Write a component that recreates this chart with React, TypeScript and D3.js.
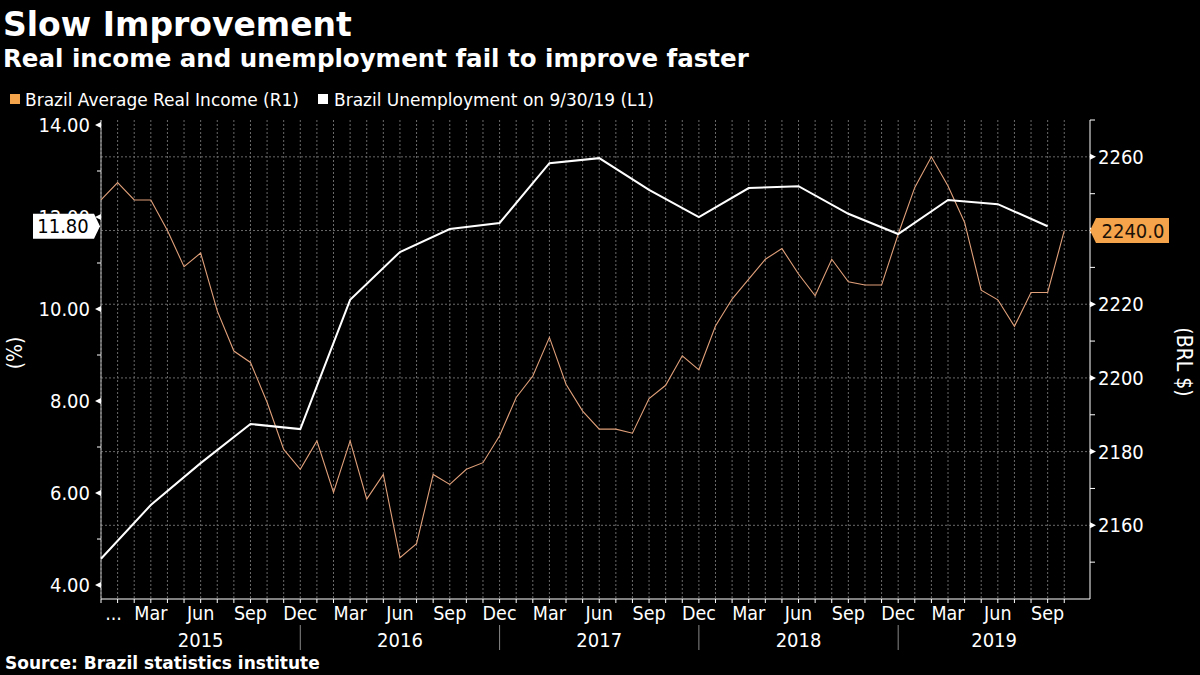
import React from "react";
import * as d3 from "d3";

// ---------- DATA ----------
const incomeStart = "2014-12";
const incomeValues = [
  2248.3,
  2253.0, 2248.3, 2248.3, 2240.0, 2230.2, 2233.9, 2218.2, 2207.3, 2204.2, 2193.4, 2180.6, 2175.2,
  2182.9, 2168.9, 2182.9, 2167.1, 2173.8, 2151.2, 2155.0, 2173.8, 2171.1, 2175.2, 2177.0, 2184.3,
  2194.7, 2200.5, 2211.0, 2198.3, 2191.0, 2186.1, 2186.1, 2185.0, 2194.4, 2198.0, 2206.0, 2202.2,
  2214.1, 2221.4, 2226.8, 2232.2, 2235.1, 2228.2, 2222.3, 2232.2, 2226.1, 2225.2, 2225.2, 2239.0,
  2251.7, 2260.0, 2252.1, 2242.2, 2223.8, 2221.2, 2214.0, 2223.2, 2223.2, 2240.0,
];

const unempDates = [
  "2014-12", "2015-03", "2015-06", "2015-09", "2015-12",
  "2016-03", "2016-06", "2016-09", "2016-12",
  "2017-03", "2017-06", "2017-09", "2017-12",
  "2018-03", "2018-06", "2018-09", "2018-12",
  "2019-03", "2019-06", "2019-09",
];
const unempValues = [
  4.57, 5.74, 6.65, 7.5, 7.39,
  10.2, 11.24, 11.74, 11.87,
  13.17, 13.28, 12.59, 12.0,
  12.63, 12.67, 12.07, 11.63,
  12.37, 12.28, 11.8,
];

const leftTicks = [4, 6, 8, 10, 12, 14];
const leftMinorTicks = [5, 7, 9, 11, 13];
const rightTicks = [2160, 2180, 2200, 2220, 2240, 2260];
const rightMinorTicks = [2150, 2170, 2190, 2210, 2230, 2250, 2270];
const quarterLabels = ["Mar", "Jun", "Sep", "Dec"];
const quarterMonths = [3, 6, 9, 12];
const years = [2015, 2016, 2017, 2018, 2019];

const title = "Slow Improvement";
const subtitle = "Real income and unemployment fail to improve faster";
const legendIncome = "Brazil Average Real Income (R1)";
const legendUnemp = "Brazil Unemployment on 9/30/19 (L1)";
const source = "Source: Brazil statistics institute";
const lastUnempLabel = "11.80";
const lastIncomeLabel = "2240.0";

// ---------- HELPERS ----------
const monthIndex = (s: string) => {
  const [y, m] = s.split("-").map(Number);
  return (y - 2014) * 12 + (m - 12);
};

const W = 1200;
const H = 675;
const L = 101;
const R = 1090;
const T = 120;
const B = 599;

const FONT = "'DejaVu Sans Condensed', 'Liberation Sans Narrow', 'DejaVu Sans', sans-serif";
const LEGEND_FONT = "'DejaVu Sans', 'Open Sans', sans-serif";
const BOLD = "'DejaVu Sans', 'Open Sans', sans-serif";
const ORANGE = "#f6a44b";
const LINE_ORANGE = "#e0a07a";
const GRID = "#6a6a6a";

export default function App() {
  const x = d3.scaleLinear().domain([0, 59.55]).range([L, R]);
  const yR = d3.scaleLinear().domain([2140, 2270]).range([B, T]);
  const yL = d3.scaleLinear().domain([3.696, 14.109]).range([B, T]);

  const start = monthIndex(incomeStart);
  const incomePts: [number, number][] = incomeValues.map((v, i) => [x(start + i), yR(v)]);
  const unempPts: [number, number][] = unempValues.map((v, i) => [x(monthIndex(unempDates[i])), yL(v)]);
  const line = d3.line();

  const monthGrid = d3.range(0, incomeValues.length);

  const tickLabels: { i: number; label: string }[] = [{ i: 1, label: "..." }];
  years.forEach((y) => {
    quarterMonths.forEach((m, k) => {
      const idx = (y - 2014) * 12 + (m - 12);
      if (idx <= 57) tickLabels.push({ i: idx, label: quarterLabels[k] });
    });
  });

  const yearBounds = years.map((y) => {
    const s = (y - 2015) * 12;
    const e = Math.min(s + 12, 59.55);
    return { y, s, e };
  });

  const lastU = unempPts[unempPts.length - 1][1];
  const lastI = incomePts[incomePts.length - 1][1];

  return (
    <svg width={W} height={H} style={{ position: "absolute", left: 0, top: 0, background: "#000" }}>
      <rect x={0} y={0} width={W} height={H} fill="#000" />

      {/* Title */}
      <text x={3} y={36} fill="#fff" fontFamily={BOLD} fontWeight="bold" fontSize={33}>{title}</text>
      <text x={3} y={67} fill="#fff" fontFamily={BOLD} fontWeight="bold" fontSize={24.5}>{subtitle}</text>

      {/* Legend */}
      <rect x={10} y={94} width={10} height={10} fill={ORANGE} />
      <text x={25} y={106} fill="#fff" fontFamily={LEGEND_FONT} fontSize={17}>{legendIncome}</text>
      <rect x={318} y={94} width={10} height={10} fill="#fff" />
      <text x={334} y={106} fill="#fff" fontFamily={LEGEND_FONT} fontSize={17}>{legendUnemp}</text>

      {/* Grid */}
      {monthGrid.map((i) => (
        <line key={"vg" + i} x1={x(i)} x2={x(i)} y1={T} y2={B} stroke={GRID} strokeWidth={1} strokeDasharray="2,2" />
      ))}
      {rightTicks.map((t) => (
        <line key={"hg" + t} x1={L} x2={R} y1={yR(t)} y2={yR(t)} stroke={GRID} strokeWidth={1} strokeDasharray="2,2" />
      ))}

      {/* Axes lines */}
      <line x1={L} x2={L} y1={T} y2={B} stroke="#bbb" strokeWidth={1} />
      <line x1={R} x2={R} y1={T} y2={B} stroke="#fff" strokeWidth={1} />
      <line x1={L} x2={R} y1={B} y2={B} stroke="#fff" strokeWidth={1} />

      {/* Bottom ticks */}
      {monthGrid.map((i) => (
        <line key={"bt" + i} x1={x(i)} x2={x(i)} y1={B} y2={B + 4} stroke="#fff" strokeWidth={1} />
      ))}
      {tickLabels.map((t) => (
        <text key={"tl" + t.i} x={x(t.i) - (t.label === "..." ? 4 : 0)} y={620} fill="#fff" fontFamily={FONT} fontSize={19.5} textAnchor="middle">
          {t.label}
        </text>
      ))}
      {yearBounds.map((b) => (
        <text key={"yl" + b.y} x={(x(b.s) + x(b.e)) / 2} y={647} fill="#fff" fontFamily={FONT} fontSize={20} textAnchor="middle">
          {b.y}
        </text>
      ))}
      {yearBounds.slice(1).map((b) => (
        <line key={"ys" + b.y} x1={x(b.s)} x2={x(b.s)} y1={625} y2={650} stroke="#888" strokeWidth={1} />
      ))}

      {/* Left axis */}
      {leftTicks.map((t) => (
        <g key={"lt" + t}>
          <path d={`M${L},${yL(t) - 3}L${L - 6},${yL(t)}L${L},${yL(t) + 3}Z`} fill="#fff" />
          <text x={90} y={yL(t) + 7} fill="#fff" fontFamily={FONT} fontSize={20} textAnchor="end">
            {t.toFixed(2)}
          </text>
        </g>
      ))}
      {leftMinorTicks.map((t) => (
        <line key={"lm" + t} x1={L - 4} x2={L} y1={yL(t)} y2={yL(t)} stroke="#fff" strokeWidth={1} />
      ))}
      <text transform={`translate(22,353) rotate(-90)`} fill="#fff" fontFamily={FONT} fontSize={21} textAnchor="middle">(%)</text>

      {/* Right axis */}
      {rightTicks.map((t) => (
        <g key={"rt" + t}>
          <path d={`M${R},${yR(t) - 3}L${R + 6},${yR(t)}L${R},${yR(t) + 3}Z`} fill="#fff" />
          {t !== 2240 && (
            <text x={1098} y={yR(t) + 7} fill="#fff" fontFamily={FONT} fontSize={20}>
              {t}
            </text>
          )}
        </g>
      ))}
      {rightMinorTicks.map((t) => (
        <line key={"rm" + t} x1={R} x2={R + 5} y1={yR(t)} y2={yR(t)} stroke="#fff" strokeWidth={1} />
      ))}
      <text transform={`translate(1177,362) rotate(90)`} fill="#fff" fontFamily={FONT} fontSize={21} textAnchor="middle">(BRL $)</text>

      {/* Lines */}
      <path d={line(incomePts) || ""} fill="none" stroke={LINE_ORANGE} strokeWidth={1.1} strokeLinejoin="miter" />
      <path d={line(unempPts) || ""} fill="none" stroke="#fff" strokeWidth={2} strokeLinejoin="miter" />

      {/* Last value labels */}
      <path d={`M33,${lastU - 12.5}H94L100,${lastU}L94,${lastU + 12.5}H33Z`} fill="#fff" />
      <text x={63} y={lastU + 7} fill="#000" fontFamily={FONT} fontSize={20} textAnchor="middle">{lastUnempLabel}</text>

      <path d={`M${R},${lastI}L${R + 6},${lastI - 12.5}H1169V${lastI + 12.5}H${R + 6}Z`} fill={ORANGE} />
      <text x={1133} y={lastI + 7} fill="#1a1208" fontFamily={FONT} fontSize={20} textAnchor="middle">{lastIncomeLabel}</text>

      {/* Source */}
      <text x={5} y={669} fill="#fff" fontFamily={BOLD} fontWeight="bold" fontSize={17}>{source}</text>
    </svg>
  );
}
